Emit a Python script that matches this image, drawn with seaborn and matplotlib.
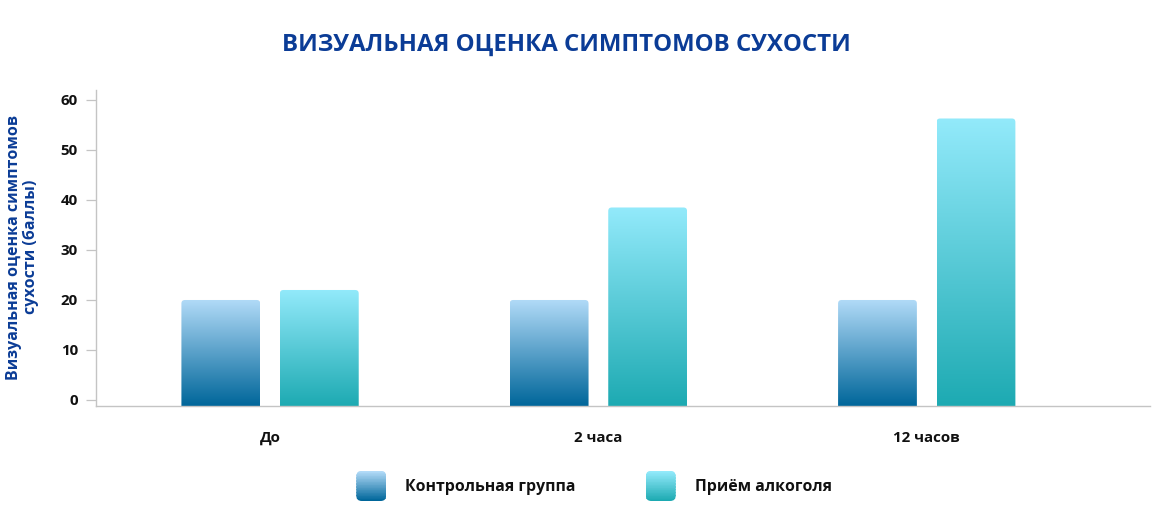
import numpy as np
import pandas as pd
import matplotlib
matplotlib.use("Agg")
import matplotlib.pyplot as plt
import seaborn as sns
from matplotlib import font_manager as fm
from matplotlib.font_manager import FontProperties
from matplotlib.colors import LinearSegmentedColormap
from matplotlib.patches import FancyBboxPatch, Rectangle
from matplotlib.legend_handler import HandlerBase

# ---- data ----
categories = ["До", "2 часа", "12 часов"]
series_names = ["Контрольная группа", "Приём алкоголя"]
control_values = [20, 20, 20]
alcohol_values = [22, 38.5, 56.3]
y_ticks = [0, 10, 20, 30, 40, 50, 60]

title_text = "ВИЗУАЛЬНАЯ ОЦЕНКА СИМПТОМОВ СУХОСТИ"
ylabel_text = "Визуальная оценка симптомов\nсухости (баллы)"

# ---- style ----
sns.set_theme(style="white")
plt.rcParams["font.family"] = ["Open Sans", "DejaVu Sans"]


def find_bold_font():
    order = ["Open Sans", "Noto Sans", "Roboto", "Lato", "DejaVu Sans"]
    for fam in order:
        for f in fm.fontManager.ttflist:
            fn = f.fname.lower()
            if (f.name == fam and f.weight in (700, "bold") and f.style == "normal"
                    and "condensed" not in fn and "semi" not in fn
                    and "narrow" not in fn and "[" not in fn
                    and f.stretch in ("normal", 500)):
                return f.fname
    return None


BOLD_PATH = find_bold_font()


def fp(size):
    if BOLD_PATH:
        return FontProperties(fname=BOLD_PATH, size=size)
    return FontProperties(family="DejaVu Sans", weight="bold", size=size)


dark_blue = "#0B3C96"
text_black = "#111111"
grad_colors = {
    series_names[0]: ("#00669A", "#B2DBF8"),
    series_names[1]: ("#1DAAB2", "#93EAFB"),
}
cmaps = {k: LinearSegmentedColormap.from_list(k, list(v)) for k, v in grad_colors.items()}

df = pd.DataFrame({
    "cat": categories * 2,
    "series": [series_names[0]] * 3 + [series_names[1]] * 3,
    "value": control_values + alcohol_values,
})

fig = plt.figure(figsize=(11.53, 5.11), dpi=100)
renderer = fig.canvas.get_renderer()


def fit_size(s, target_px, base=10.0):
    t = fig.text(0, 0, s, fontproperties=fp(base))
    w = t.get_window_extent(renderer=renderer).width
    t.remove()
    return base * target_px / w


title_size = fit_size(title_text, 570)
tick_size = fit_size("12 часов", 67)
legend_size = fit_size(series_names[0], 171)
ylabel_size = fit_size("Визуальная оценка симптомов", 265)

AX_RECT = [0.0833, 0.2055, 0.9141, 0.6184]
ax = fig.add_axes(AX_RECT)

sns.barplot(data=df, x="cat", y="value", hue="series", order=categories,
            hue_order=series_names, ax=ax, width=0.6, gap=0.2,
            palette=[grad_colors[s][0] for s in series_names], legend=False)

XMIN, XMAX = -0.53, 2.68
YMIN, YMAX = -1.2, 62
ax.set_xlim(XMIN, XMAX)
ax.set_ylim(YMIN, YMAX)

# pixel scales for rounded corners
ax_w_px = fig.get_figwidth() * fig.dpi * AX_RECT[2]
ax_h_px = fig.get_figheight() * fig.dpi * AX_RECT[3]
xpp = (XMAX - XMIN) / ax_w_px
ypp = (YMAX - YMIN) / ax_h_px

grad = np.linspace(0, 1, 256).reshape(-1, 1)
patches = list(ax.patches)
for i, p in enumerate(patches):
    series = series_names[i // len(categories)]
    x0 = p.get_x()
    w = p.get_width()
    h = p.get_height()
    p.set_visible(False)
    bottom = YMIN - 2
    clip = FancyBboxPatch((x0, bottom), w, h - bottom,
                          boxstyle=f"round,pad=0,rounding_size={3.5 * xpp}",
                          mutation_aspect=ypp / xpp,
                          transform=ax.transData, facecolor="none", edgecolor="none")
    ax.add_patch(clip)
    im = ax.imshow(grad, extent=[x0, x0 + w, YMIN, h], origin="lower",
                   aspect="auto", cmap=cmaps[series], interpolation="bilinear",
                   zorder=2)
    im.set_clip_path(clip)

ax.set_xlim(XMIN, XMAX)
ax.set_ylim(YMIN, YMAX)

# axes styling
for s in ["top", "right"]:
    ax.spines[s].set_visible(False)
for s in ["left", "bottom"]:
    ax.spines[s].set_color("#C4C4C4")
    ax.spines[s].set_linewidth(1.0)
ax.set_yticks(y_ticks)
ax.set_yticklabels([str(v) for v in y_ticks])
ax.tick_params(axis="y", length=7.2, width=0.9, color="#C4C4C4", pad=5.8,
               labelcolor=text_black, left=True)
ax.tick_params(axis="x", length=0, pad=18, labelcolor=text_black)
for lab in ax.get_yticklabels() + ax.get_xticklabels():
    lab.set_fontproperties(fp(tick_size))
ax.set_xlabel("")
ylab_px = ylabel_size * fig.dpi / 72
ax.set_ylabel(ylabel_text, fontproperties=fp(ylabel_size), color=dark_blue,
              linespacing=20 / (ylab_px * 1.2))
ax.yaxis.set_label_coords(39 / 1153, 1 - 247 / 511, transform=fig.transFigure)
ax.grid(False)

fig.text(566 / 1153, 1 - 45 / 511, title_text, ha="center", va="center",
         fontproperties=fp(title_size), color=dark_blue)


# legend with gradient handles
class GradientHandler(HandlerBase):
    def __init__(self, cmap):
        super().__init__()
        self.cmap = cmap

    def create_artists(self, legend, orig_handle, xdescent, ydescent, width,
                       height, fontsize, trans):
        artists = []
        n = 40
        r = 4
        clip = FancyBboxPatch((-xdescent, -ydescent), width, height,
                              boxstyle=f"round,pad=0,rounding_size={r}",
                              transform=trans, facecolor="none", edgecolor="none")
        for k in range(n):
            c = self.cmap(k / (n - 1))
            rect = Rectangle((-xdescent, -ydescent + height * k / n), width,
                             height / n + 0.3, facecolor=c, edgecolor="none",
                             transform=trans)
            rect.set_clip_path(clip)
            artists.append(rect)
        return artists


fs_px = legend_size * fig.dpi / 72
handlelength = 30 / fs_px
handleheight = (30 / fs_px - 0.245) / 0.65
handles = [Rectangle((0, 0), 1, 1) for _ in series_names]
handler_map = {h: GradientHandler(cmaps[s]) for h, s in zip(handles, series_names)}
leg = fig.legend(handles, series_names, handler_map=handler_map,
                 loc="center", bbox_to_anchor=(594 / 1153, 1 - 486 / 511), ncol=2,
                 frameon=False, handlelength=handlelength, handleheight=handleheight,
                 handletextpad=19 / fs_px, columnspacing=70 / fs_px,
                 prop=fp(legend_size), borderpad=0, borderaxespad=0)
for t in leg.get_texts():
    t.set_color(text_black)

fig.savefig("out.png", dpi=100)
